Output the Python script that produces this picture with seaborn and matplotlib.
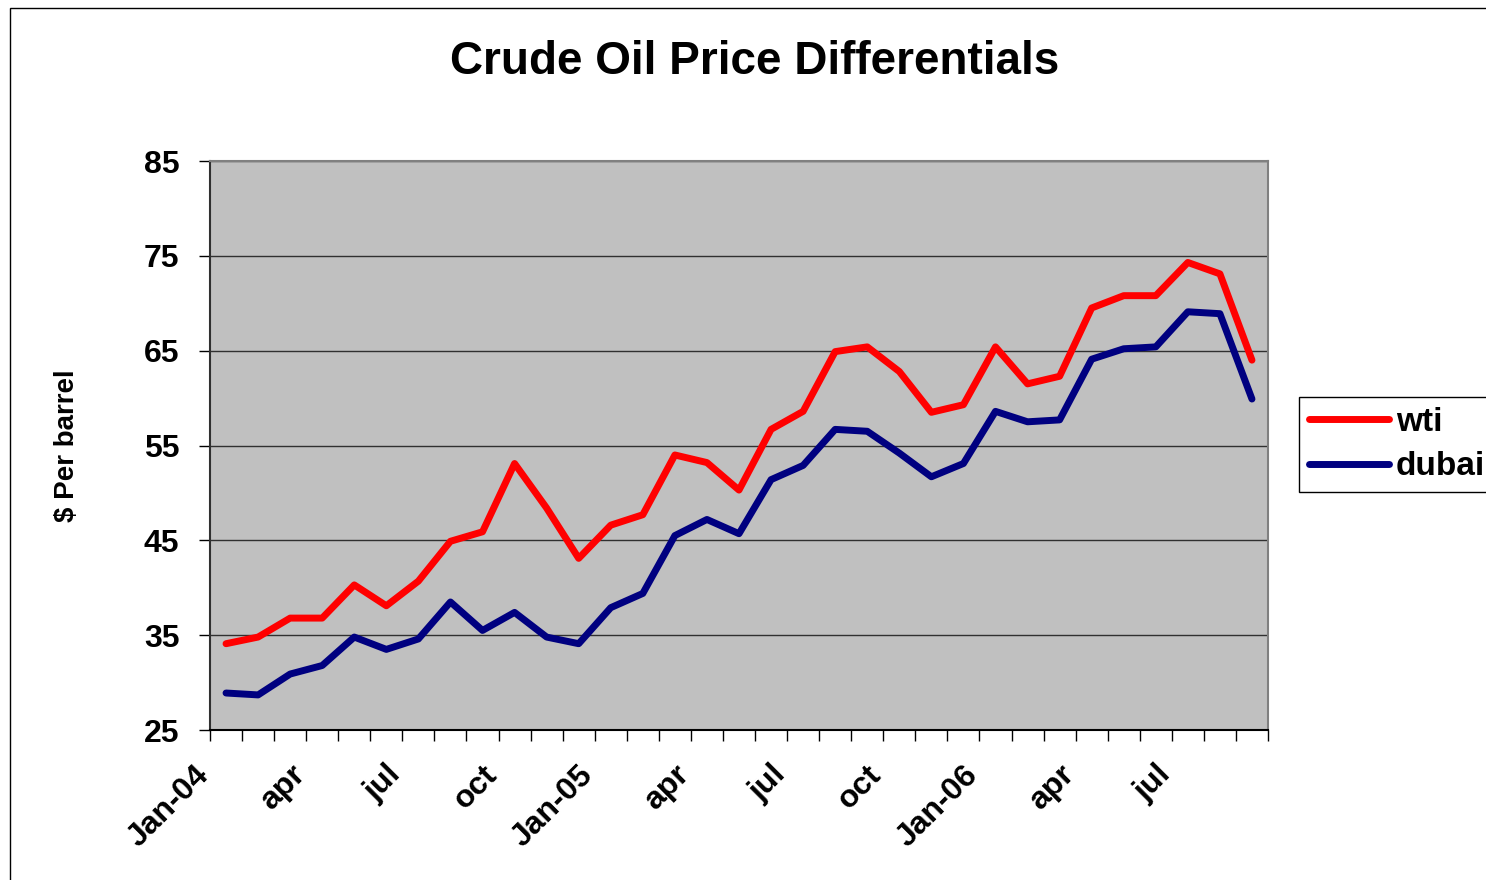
import numpy as np
import pandas as pd
import matplotlib
matplotlib.use("Agg")
import matplotlib.pyplot as plt
import matplotlib.transforms as mtransforms
from matplotlib.ticker import FixedLocator
import seaborn as sns

# monthly values, Jan-04 .. Sep-06
months = pd.date_range("2004-01-01", periods=33, freq="MS")
wti = [34.1, 34.8, 36.8, 36.8, 40.3, 38.1, 40.7, 44.9, 45.9, 53.1, 48.4, 43.1,
       46.6, 47.7, 54.0, 53.2, 50.3, 56.7, 58.6, 64.9, 65.4, 62.8, 58.5, 59.3,
       65.4, 61.5, 62.3, 69.5, 70.8, 70.8, 74.3, 73.1, 64.0]
dubai = [28.9, 28.7, 30.9, 31.8, 34.8, 33.5, 34.6, 38.5, 35.5, 37.4, 34.8, 34.1,
         37.9, 39.4, 45.5, 47.2, 45.7, 51.4, 52.9, 56.7, 56.5, 54.2, 51.7, 53.1,
         58.6, 57.5, 57.7, 64.1, 65.2, 65.4, 69.1, 68.9, 59.9]
tick_labels = ["Jan-04", "apr", "jul", "oct", "Jan-05", "apr", "jul", "oct",
               "Jan-06", "apr", "jul"]
y_ticks = [25, 35, 45, 55, 65, 75, 85]

df = pd.DataFrame({"idx": list(range(len(months))) * 2,
                   "price": wti + dubai,
                   "series": ["wti"] * len(wti) + ["dubai"] * len(dubai)})

sns.set_style("white")
plt.rcParams["font.family"] = ["Liberation Sans", "DejaVu Sans"]
plt.rcParams["font.weight"] = "bold"
plt.rcParams["text.color"] = "black"
plt.rcParams["xtick.color"] = "black"
plt.rcParams["ytick.color"] = "black"
plt.rcParams["axes.labelcolor"] = "black"

fig = plt.figure(figsize=(14.86, 8.8), dpi=100)
ax = fig.add_axes([210 / 1486, 1 - 730 / 880, 1058 / 1486, 569 / 880])
ax.set_facecolor("#C0C0C0")

sns.lineplot(data=df, x="idx", y="price", hue="series",
             palette={"wti": "#FF0000", "dubai": "#000080"},
             linewidth=5, ax=ax, legend=False)

ax.set_xlim(-0.5, len(months) - 0.5)
ax.set_ylim(25, 85)
ax.set_yticks(y_ticks)
ax.set_yticklabels([str(v) for v in y_ticks], fontsize=23, fontweight="bold")
ax.yaxis.grid(True, color="#303030", linewidth=1.0)
ax.set_axisbelow(True)

ax.set_xticks(np.arange(0, len(months), 3))
ax.set_xticklabels(tick_labels, fontsize=23, fontweight="bold",
                   rotation=45, ha="right", va="center", rotation_mode="anchor")
ax.xaxis.set_minor_locator(FixedLocator(np.arange(-0.5, len(months), 1)))
ax.tick_params(axis="x", which="major", length=0, pad=29)
ax.tick_params(axis="x", which="minor", length=8, width=1, color="black",
               direction="out", bottom=True)
ax.tick_params(axis="y", length=8, width=1, color="black", direction="out",
               left=True, pad=14)
offset = mtransforms.ScaledTranslation(-0.22, 0, fig.dpi_scale_trans)
for lab in ax.get_xticklabels():
    lab.set_transform(lab.get_transform() + offset)

ax.set_xlabel("")
ax.set_ylabel("$ Per barrel", fontsize=20, fontweight="bold", labelpad=46)

for side in ["top", "right", "left"]:
    ax.spines[side].set_color("#808080")
    ax.spines[side].set_linewidth(1.5)
ax.spines["bottom"].set_color("black")
ax.spines["bottom"].set_linewidth(1.5)
ax.spines["left"].set_color("#303030")

fig.text(755 / 1486, 1 - 62 / 880, "Crude Oil Price Differentials",
         ha="center", va="center", fontsize=33, fontweight="bold")

handles = [plt.Line2D([], [], color="#FF0000", linewidth=5),
           plt.Line2D([], [], color="#000080", linewidth=5)]
leg = ax.legend(handles, ["wti", "dubai"], loc="upper left",
                bbox_to_anchor=(1299 / 1486, 1 - 397 / 880),
                bbox_transform=fig.transFigure, borderaxespad=0,
                frameon=True, fancybox=False, framealpha=1,
                edgecolor="black", handlelength=2.4, handletextpad=0.2,
                labelspacing=0.4, borderpad=0.3,
                prop={"size": 24, "weight": "bold"})
leg.get_frame().set_linewidth(1.0)

# outer chart border (right and bottom edges fall off the picture)
fig.patches.append(plt.Rectangle((10 / 1486, -0.1), 1.2, 1 - 8 / 880 + 0.1,
                                 transform=fig.transFigure, fill=False,
                                 edgecolor="black", linewidth=1.0))

fig.savefig("out.png", dpi=100)
